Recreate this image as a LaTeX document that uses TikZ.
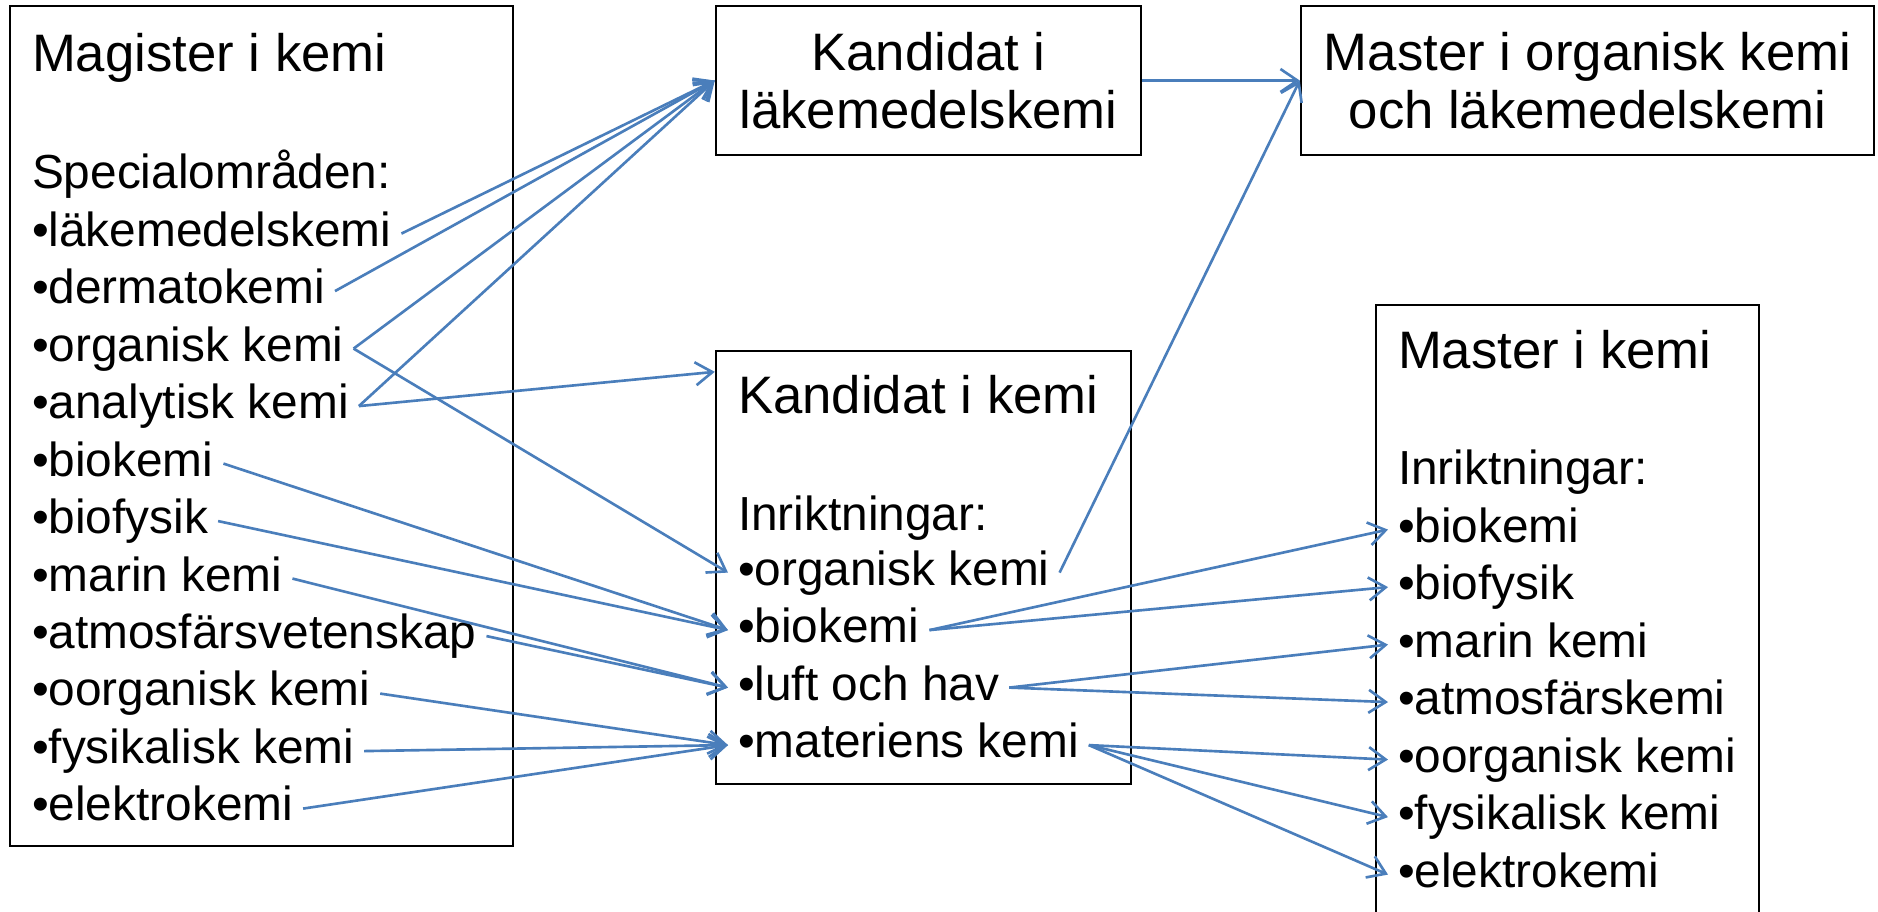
\documentclass[tikz,border=0pt]{standalone}
\usepackage{fontspec}
\setmainfont{Liberation Sans}
\usetikzlibrary{positioning, arrows.meta}
\definecolor{link}{HTML}{4A7EBB}
\tikzset{
  box/.style   = {rectangle, draw=black, line width=0.7pt, inner sep=0pt},
  big/.style   = {font=\fontsize{15}{16.4}\selectfont},
  item/.style  = {font=\fontsize{13.6}{16.36}\selectfont, anchor=base west,
                  inner xsep=0.1cm, inner ysep=0pt, outer sep=0pt,
                  text height=11.71pt, text depth=4.65pt},
  head/.style  = {item, big},
  under/.style = {below=0pt of #1.south west, anchor=north west},
  ar/.style    = {-{Straight Barb[length=1.7mm,width=2.3mm]}, line width=0.75pt, draw=link},
}
\begin{document}
\begin{tikzpicture}

  \useasboundingbox (0,0) rectangle (18.78,-9.12);
  \clip (0,0) rectangle (18.78,-9.12);

  % boxes
  \node[box, minimum width=5.03cm, minimum height=8.40cm] (mag) at (2.615,-4.26) {};
  \node[box, big, align=center, minimum width=4.25cm, minimum height=1.49cm] (kl)
       at (9.285,-0.805) {Kandidat i\\läkemedelskemi};
  \node[box, big, align=center, minimum width=5.73cm, minimum height=1.49cm] (mo)
       at (15.875,-0.805) {Master i organisk kemi\\och läkemedelskemi};
  \node[box, minimum width=4.15cm, minimum height=4.33cm] (kk) at (9.235,-5.675) {};
  \node[box, minimum width=3.83cm, minimum height=6.55cm] (mk) at (15.675,-6.325) {};

  % Magister i kemi
  \node[head] (magT) at (0.22,-0.71) {Magister i kemi};
  \node[item] (magS) at (0.22,-1.88) {Specialområden:};
  \node[item] (m1) at (0.22,-2.46) {•läkemedelskemi};
  \node[item, under=m1] (m2) {•dermatokemi};
  \node[item, under=m2] (m3) {•organisk kemi};
  \node[item, under=m3] (m4) {•analytisk kemi};
  \node[item, under=m4] (m5) {•biokemi};
  \node[item, under=m5] (m6) {•biofysik};
  \node[item, under=m6] (m7) {•marin kemi};
  \node[item, under=m7] (m8) {•atmosfärsvetenskap};
  \node[item, under=m8] (m9) {•oorganisk kemi};
  \node[item, under=m9] (m10) {•fysikalisk kemi};
  \node[item, under=m10] (m11) {•elektrokemi};

  % Kandidat i kemi
  \node[head] (kkT) at (7.28,-4.13) {Kandidat i kemi};
  \node[item] (kkS) at (7.28,-5.30) {Inriktningar:};
  \node[item] (k1) at (7.28,-5.85) {•organisk kemi};
  \node[item, under=k1] (k2) {•biokemi};
  \node[item, under=k2] (k3) {•luft och hav};
  \node[item, under=k3] (k4) {•materiens kemi};

  % Master i kemi
  \node[head] (mkT) at (13.88,-3.68) {Master i kemi};
  \node[item] (mkS) at (13.88,-4.84) {Inriktningar:};
  \node[item] (n1) at (13.88,-5.42) {•biokemi};
  \node[item, under=n1] (n2) {•biofysik};
  \node[item, under=n2] (n3) {•marin kemi};
  \node[item, under=n3] (n4) {•atmosfärskemi};
  \node[item, under=n4] (n5) {•oorganisk kemi};
  \node[item, under=n5] (n6) {•fysikalisk kemi};
  \node[item, under=n6] (n7) {•elektrokemi};

  % connectors
  \draw[ar] (m1.east) -- (kl.west);
  \draw[ar] (m2.east) -- (kl.west);
  \draw[ar] (m3.east) -- (kl.west);
  \draw[ar] (m4.east) -- (kl.west);
  \draw[ar] (m3.east) -- (k1.west);
  \draw[ar] (m4.east) -- (kk.west |- kkT.north);
  \draw[ar] (m5.east) -- (k2.west);
  \draw[ar] (m6.east) -- (k2.west);
  \draw[ar] (m7.east) -- (k3.west);
  \draw[ar] (m8.east) -- (k3.west);
  \draw[ar] (m9.east) -- (k4.west);
  \draw[ar] (m10.east) -- (k4.west);
  \draw[ar] (m11.east) -- (k4.west);

  \draw[ar] (kl.east) -- (mo.west);
  \draw[ar] (k1.east) -- (mo.west);

  \draw[ar] (k2.east) -- (n1.west);
  \draw[ar] (k2.east) -- (n2.west);
  \draw[ar] (k3.east) -- (n3.west);
  \draw[ar] (k3.east) -- (n4.west);
  \draw[ar] (k4.east) -- (n5.west);
  \draw[ar] (k4.east) -- (n6.west);
  \draw[ar] (k4.east) -- (n7.west);

\end{tikzpicture}
\end{document}
